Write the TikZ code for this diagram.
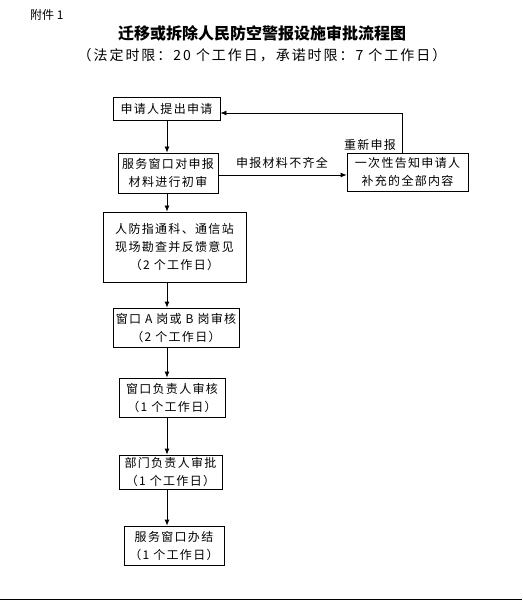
\documentclass[tikz,border=0pt]{standalone}
\usepackage{fontspec}
\setmainfont{Noto Sans CJK SC}
\newfontfamily\spaced[LetterSpace=11]{Noto Sans CJK SC}
\newfontfamily\subspaced[LetterSpace=14]{Noto Sans CJK SC}
\usetikzlibrary{arrows.meta,calc}
\begin{document}
\begin{tikzpicture}[x=1pt,y=-1pt,
  box/.style={draw,line width=0.8pt,rectangle,inner sep=0pt,align=center,
    font=\spaced\fontsize{12}{18}\selectfont},
  arr/.style={line width=0.8pt,-{Latex[length=6pt,width=5pt]}},
  lbl/.style={inner sep=0pt,font=\spaced\fontsize{12}{14}\selectfont}]
\useasboundingbox (0,0) rectangle (522,601);
\node[inner sep=0pt,anchor=west,font=\fontsize{12}{14}\selectfont] (att) at (30,15) {附件 1};
\node[inner sep=0pt,font=\fontsize{16}{18}\bfseries\selectfont] (title) at (262,33) {迁移或拆除人民防空警报设施审批流程图};
\node[inner sep=0pt,font=\subspaced\fontsize{14}{16}\selectfont] (sub) at (262,55) {（法定时限：20 个工作日，承诺时限：7 个工作日）};

\node[box,minimum width=107pt,minimum height=23pt] (b1) at (166.5,108.5) {申请人提出申请};
\node[box,minimum width=100pt,minimum height=40pt] (b2) at (168,173) {服务窗口对申报\\材料进行初审};
\node[box,minimum width=121pt,minimum height=38pt] (b3) at (407.5,172) {一次性告知申请人\\补充的全部内容};
\node[box,minimum width=143pt,minimum height=70pt] (b4) at (174.5,247) {人防指通科、通信站\\现场勘查并反馈意见\\（2 个工作日）};
\node[box,minimum width=126pt,minimum height=39pt] (b5) at (176,327.5) {窗口 A 岗或 B 岗审核\\（2 个工作日）};
\node[box,minimum width=106pt,minimum height=39pt] (b6) at (172,397.5) {窗口负责人审核\\（1 个工作日）};
\node[box,minimum width=103pt,minimum height=34pt] (b7) at (170.5,472) {部门负责人审批\\（1 个工作日）};
\node[box,minimum width=100pt,minimum height=39pt] (b8) at (174,545.5) {服务窗口办结\\（1 个工作日）};

\coordinate (col) at (167,0);
\coordinate (turn) at (402,113);
\coordinate (mid) at (0,175);

\draw[arr] (b1.south -| col) -- (b2.north -| col);
\draw[arr] (b2.south -| col) -- (b4.north -| col);
\draw[arr] (b4.south -| col) -- (b5.north -| col);
\draw[arr] (b5.south -| col) -- (b6.north -| col);
\draw[arr] (b6.south -| col) -- (b7.north -| col);
\draw[arr] (b7.south -| col) -- (b8.north -| col);
\draw[arr] (b2.east |- mid) -- (b3.west |- mid);
\draw[arr] (b3.north -| turn) -- (turn) -- (turn -| b1.east);

\node[lbl] (l1) at (282,163) {申报材料不齐全};
\node[lbl] (l2) at (370,145) {重新申报};

\draw[line width=1.5pt] (0,599.5) -- (522,599.5);
\end{tikzpicture}
\end{document}
